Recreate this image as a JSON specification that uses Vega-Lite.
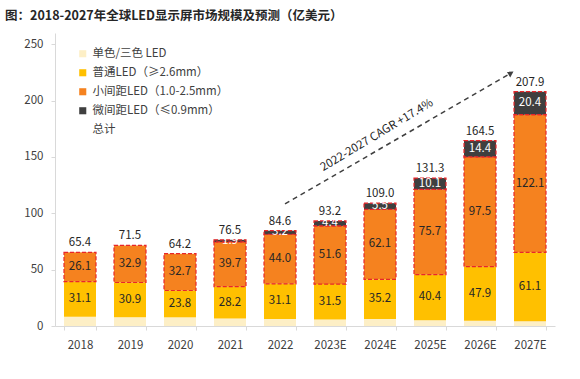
{
  "$schema": "https://vega.github.io/schema/vega-lite/v6.json",
  "autosize": {"type": "none"},
  "width": 500,
  "height": 293,
  "padding": {"left": 55, "top": 33, "right": 25, "bottom": 53},
  "background": "white",
  "config": {"font": "Noto Sans CJK SC", "view": {"stroke": null}},
  "title": {"text": "图：2018-2027年全球LED显示屏市场规模及预测（亿美元）", "anchor": "start", "frame": "group", "dx": -50, "offset": 11, "fontSize": 12.5, "fontWeight": "bold", "color": "#262626"},
  "datasets": {
    "bars": [
      {"year": "2018", "series": "单色/三色 LED", "value": 8.2},
      {"year": "2018", "series": "普通LED（≥2.6mm）", "value": 31.1},
      {"year": "2018", "series": "小间距LED（1.0-2.5mm）", "value": 26.1},
      {"year": "2019", "series": "单色/三色 LED", "value": 7.7},
      {"year": "2019", "series": "普通LED（≥2.6mm）", "value": 30.9},
      {"year": "2019", "series": "小间距LED（1.0-2.5mm）", "value": 32.9},
      {"year": "2020", "series": "单色/三色 LED", "value": 7.7},
      {"year": "2020", "series": "普通LED（≥2.6mm）", "value": 23.8},
      {"year": "2020", "series": "小间距LED（1.0-2.5mm）", "value": 32.7},
      {"year": "2021", "series": "单色/三色 LED", "value": 6.7},
      {"year": "2021", "series": "普通LED（≥2.6mm）", "value": 28.2},
      {"year": "2021", "series": "小间距LED（1.0-2.5mm）", "value": 39.7},
      {"year": "2021", "series": "微间距LED（≤0.9mm）", "value": 1.9},
      {"year": "2022", "series": "单色/三色 LED", "value": 6.3},
      {"year": "2022", "series": "普通LED（≥2.6mm）", "value": 31.1},
      {"year": "2022", "series": "小间距LED（1.0-2.5mm）", "value": 44.0},
      {"year": "2022", "series": "微间距LED（≤0.9mm）", "value": 3.2},
      {"year": "2023E", "series": "单色/三色 LED", "value": 5.7},
      {"year": "2023E", "series": "普通LED（≥2.6mm）", "value": 31.5},
      {"year": "2023E", "series": "小间距LED（1.0-2.5mm）", "value": 51.6},
      {"year": "2023E", "series": "微间距LED（≤0.9mm）", "value": 4.4},
      {"year": "2024E", "series": "单色/三色 LED", "value": 6.2},
      {"year": "2024E", "series": "普通LED（≥2.6mm）", "value": 35.2},
      {"year": "2024E", "series": "小间距LED（1.0-2.5mm）", "value": 62.1},
      {"year": "2024E", "series": "微间距LED（≤0.9mm）", "value": 5.5},
      {"year": "2025E", "series": "单色/三色 LED", "value": 5.1},
      {"year": "2025E", "series": "普通LED（≥2.6mm）", "value": 40.4},
      {"year": "2025E", "series": "小间距LED（1.0-2.5mm）", "value": 75.7},
      {"year": "2025E", "series": "微间距LED（≤0.9mm）", "value": 10.1},
      {"year": "2026E", "series": "单色/三色 LED", "value": 4.7},
      {"year": "2026E", "series": "普通LED（≥2.6mm）", "value": 47.9},
      {"year": "2026E", "series": "小间距LED（1.0-2.5mm）", "value": 97.5},
      {"year": "2026E", "series": "微间距LED（≤0.9mm）", "value": 14.4},
      {"year": "2027E", "series": "单色/三色 LED", "value": 4.3},
      {"year": "2027E", "series": "普通LED（≥2.6mm）", "value": 61.1},
      {"year": "2027E", "series": "小间距LED（1.0-2.5mm）", "value": 122.1},
      {"year": "2027E", "series": "微间距LED（≤0.9mm）", "value": 20.4}
    ],
    "totals": [
      {"year": "2018", "total": 65.4},
      {"year": "2019", "total": 71.5},
      {"year": "2020", "total": 64.2},
      {"year": "2021", "total": 76.5},
      {"year": "2022", "total": 84.6},
      {"year": "2023E", "total": 93.2},
      {"year": "2024E", "total": 109.0},
      {"year": "2025E", "total": 131.3},
      {"year": "2026E", "total": 164.5},
      {"year": "2027E", "total": 207.9}
    ],
    "arrow": [
      {"pos": 4.6, "v": 108.4, "end": false},
      {"pos": 9.12, "v": 224.4, "end": true}
    ],
    "cagr": [
      {"pos": 6.44, "v": 169, "label": "2022-2027 CAGR +17.4%"}
    ]
  },
  "layer": [
    {
      "layer": [
        {
          "data": {"name": "bars"},
          "transform": [
            {"calculate": "indexof(['单色/三色 LED','普通LED（≥2.6mm）','小间距LED（1.0-2.5mm）','微间距LED（≤0.9mm）'], datum.series)", "as": "ord"}
          ],
          "mark": {"type": "bar", "strokeDash": [4, 2], "strokeWidth": 1.2},
          "encoding": {
            "x": {"field": "year", "type": "nominal", "sort": null, "scale": {"paddingInner": 0.36, "paddingOuter": 0.18},
              "axis": {"title": null, "labelAngle": 0, "labelFontSize": 11.5, "labelColor": "#404040", "domainColor": "#d9d9d9", "tickColor": "#d9d9d9", "tickBand": "extent", "tickSize": 4, "labelPadding": 9}},
            "y": {"field": "value", "type": "quantitative", "stack": "zero", "scale": {"domain": [0, 250]},
              "axis": {"title": null, "values": [0, 50, 100, 150, 200, 250], "grid": false, "labelFontSize": 11.5, "labelColor": "#404040", "domainColor": "#d9d9d9", "tickColor": "#d9d9d9", "tickSize": 4, "labelPadding": 8}},
            "color": {"field": "series", "type": "nominal",
              "scale": {"domain": ["单色/三色 LED", "普通LED（≥2.6mm）", "小间距LED（1.0-2.5mm）", "微间距LED（≤0.9mm）", "总计"],
                "range": ["#FDEFC6", "#FFC000", "#F5821F", "#3F3F3F", "#FFFFFF"]},
              "legend": {"title": null, "orient": "none", "legendX": 22, "legendY": 15, "symbolType": "square", "symbolSize": 50, "symbolStrokeWidth": 0, "labelFontSize": 11.5, "labelColor": "#404040", "rowPadding": 6, "symbolOffset": 0, "labelOffset": 4}},
            "stroke": {"condition": {"test": "datum.ord >= 2", "value": "#E8262A"}, "value": null},
            "order": {"field": "ord", "type": "quantitative"}
          }
        },
        {
          "data": {"name": "bars"},
          "transform": [
            {"calculate": "indexof(['单色/三色 LED','普通LED（≥2.6mm）','小间距LED（1.0-2.5mm）','微间距LED（≤0.9mm）'], datum.series)", "as": "ord"},
            {"stack": "value", "groupby": ["year"], "sort": [{"field": "ord", "order": "ascending"}], "as": ["y0", "y1"]},
            {"calculate": "(datum.y0 + datum.y1) / 2", "as": "mid"},
            {"filter": "datum.ord >= 1"}
          ],
          "mark": {"type": "text", "fontSize": 11.5, "baseline": "middle", "align": "center"},
          "encoding": {
            "x": {"field": "year", "type": "nominal", "sort": null},
            "y": {"field": "mid", "type": "quantitative"},
            "text": {"field": "value", "type": "quantitative", "format": ".1f"},
            "color": {"condition": {"test": "datum.ord == 3", "value": "#FFFFFF"}, "value": "#262626"}
          }
        },
        {
          "data": {"name": "totals"},
          "mark": {"type": "text", "fontSize": 11.5, "baseline": "bottom", "dy": -4, "color": "#262626"},
          "encoding": {
            "x": {"field": "year", "type": "nominal", "sort": null},
            "y": {"field": "total", "type": "quantitative"},
            "text": {"field": "total", "type": "quantitative", "format": ".1f"}
          }
        }
      ]
    },
    {
      "layer": [
        {
          "data": {"name": "arrow"},
          "mark": {"type": "line", "strokeDash": [5, 4], "strokeWidth": 1.5, "color": "#404040"},
          "encoding": {
            "x": {"field": "pos", "type": "quantitative", "scale": {"domain": [0, 10]}, "axis": null},
            "y": {"field": "v", "type": "quantitative"}
          }
        },
        {
          "data": {"name": "arrow"},
          "transform": [{"filter": "datum.end"}],
          "mark": {"type": "point", "shape": "triangle-up", "angle": 59, "size": 45, "filled": true, "color": "#404040", "opacity": 1},
          "encoding": {
            "x": {"field": "pos", "type": "quantitative", "scale": {"domain": [0, 10]}, "axis": null},
            "y": {"field": "v", "type": "quantitative"}
          }
        },
        {
          "data": {"name": "cagr"},
          "mark": {"type": "text", "angle": -31, "fontSize": 11.5, "color": "#262626", "align": "center", "baseline": "middle"},
          "encoding": {
            "x": {"field": "pos", "type": "quantitative", "scale": {"domain": [0, 10]}, "axis": null},
            "y": {"field": "v", "type": "quantitative"},
            "text": {"field": "label"}
          }
        }
      ]
    }
  ],
  "resolve": {"scale": {"x": "independent"}, "axis": {"x": "independent"}}
}
